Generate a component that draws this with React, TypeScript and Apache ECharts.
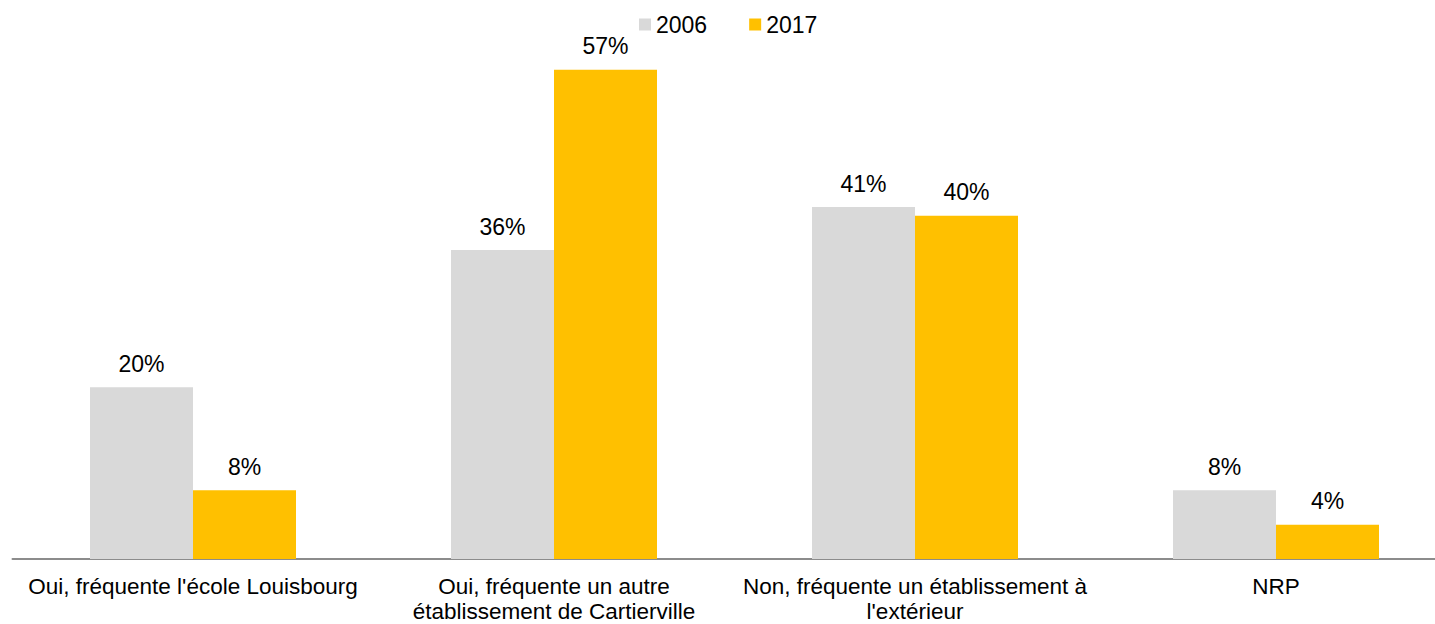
import React, { useEffect, useRef } from "react";
import * as echarts from "echarts";

const categories = [
  "Oui, fréquente l'école Louisbourg",
  "Oui, fréquente un autre\nétablissement de Cartierville",
  "Non, fréquente un établissement à\nl'extérieur",
  "NRP",
];
const seriesNames = ["2006", "2017"];
const values2006 = [20, 36, 41, 8];
const values2017 = [8, 57, 40, 4];
const colors = ["#D9D9D9", "#FFC000"];

export default function App() {
  const ref = useRef<HTMLDivElement>(null);
  useEffect(() => {
    if (!ref.current) return;
    const chart = echarts.init(ref.current, null, { renderer: "svg" });
    const font = "Liberation Sans, Arial, sans-serif";
    const label = {
      show: true,
      position: "top",
      distance: 12,
      formatter: "{c}%",
      color: "#000",
      fontSize: 23,
      fontFamily: font,
    };
    chart.setOption({
      animation: false,
      backgroundColor: "#fff",
      legend: {
        left: 634,
        top: 8,
        itemWidth: 12,
        itemHeight: 12,
        itemGap: 42,
        icon: "rect",
        textStyle: { fontSize: 23, color: "#000", fontFamily: font },
        data: seriesNames,
      },
      grid: { left: 12.5, top: 44, width: 1444, height: 515, containLabel: false },
      xAxis: {
        type: "category",
        data: categories,
        axisTick: { show: false },
        axisLine: { lineStyle: { color: "#8C8C8C", width: 2 } },
        axisLabel: {
          interval: 0,
          margin: 15,
          fontSize: 22.5,
          lineHeight: 25,
          color: "#000",
          fontFamily: font,
        },
      },
      yAxis: {
        type: "value",
        min: 0,
        max: 60,
        show: false,
        splitLine: { show: false },
      },
      series: [
        {
          name: seriesNames[0],
          type: "bar",
          data: values2006,
          barWidth: 103,
          barGap: "0%",
          itemStyle: { color: colors[0] },
          label,
        },
        {
          name: seriesNames[1],
          type: "bar",
          data: values2017,
          barWidth: 103,
          barGap: "0%",
          itemStyle: { color: colors[1] },
          label,
        },
      ],
    });
    return () => chart.dispose();
  }, []);
  return (
    <div
      style={{
        position: "absolute",
        left: 0,
        top: 0,
        width: 1435,
        height: 624,
        overflow: "hidden",
      }}
    >
      <div ref={ref} style={{ width: 1470, height: 624 }} />
    </div>
  );
}
